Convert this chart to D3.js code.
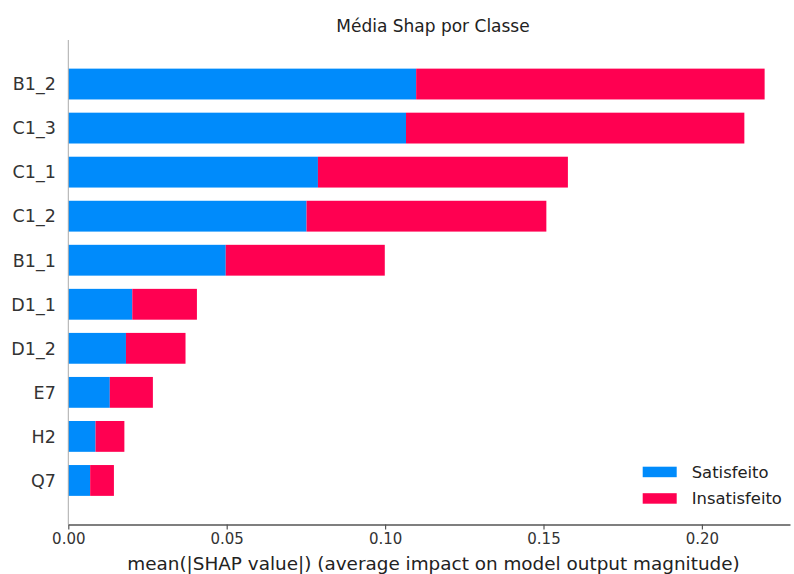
<!DOCTYPE html>
<html>
<head>
<meta charset="utf-8">
<script src="https://cdn.jsdelivr.net/npm/d3@7"></script>
<style>
  body { margin: 0; background: #fff; }
  text { font-family: "DejaVu Sans", sans-serif; }
</style>
</head>
<body>
<script>
const width = 794;
const height = 574;

// feature names, top to bottom
const features = ["B1_2", "C1_3", "C1_1", "C1_2", "B1_1", "D1_1", "D1_2", "E7", "H2", "Q7"];
// mean |SHAP| per class
const satisfeito = [0.1098, 0.1066, 0.0788, 0.0752, 0.0497, 0.0202, 0.0182, 0.0131, 0.0086, 0.0069];
const insatisfeito = [0.1100, 0.1068, 0.0789, 0.0757, 0.0502, 0.0204, 0.0188, 0.0136, 0.0091, 0.0075];
const classes = ["Satisfeito", "Insatisfeito"];
const colors = ["#008bfb", "#ff0051"];
const xTicks = [0, 0.05, 0.10, 0.15, 0.20];

const plotLeft = 68.3, plotRight = 790, plotTop = 40, plotBottom = 524.5;

let svg = d3.select("body").append("svg").attr("width", width).attr("height", height);

// x scale
let x = d3.scaleLinear().domain([0, (plotRight - plotLeft) / 3168]).range([plotLeft, plotRight]);
// y band scale
let y = d3.scaleBand().domain(features).range([plotTop, plotBottom]).paddingInner(0.3).paddingOuter(0.65);

// build table for stacking
const rows = features.map((f, i) => ({feature: f, Satisfeito: satisfeito[i], Insatisfeito: insatisfeito[i]}));
const stacked = d3.stack().keys(classes)(rows);

svg.append("g")
    .selectAll("g")
    .data(stacked)
    .enter()
    .append("g")
    .attr("fill", (d, i) => colors[i])
    .selectAll("rect")
    .data(d => d)
    .enter()
    .append("rect")
    .attr("x", d => x(d[0]))
    .attr("width", d => x(d[1]) - x(d[0]))
    .attr("y", d => y(d.data.feature))
    .attr("height", y.bandwidth());

// left spine
svg.append("line")
    .attr("x1", plotLeft).attr("x2", plotLeft)
    .attr("y1", plotTop).attr("y2", plotBottom)
    .attr("stroke", "#aaa").attr("stroke-width", 1);

// y labels
svg.append("g")
    .selectAll("text")
    .data(features)
    .enter()
    .append("text")
    .attr("x", plotLeft - 12.5)
    .attr("y", d => y(d) + y.bandwidth() / 2)
    .attr("dy", "0.36em")
    .attr("text-anchor", "end")
    .attr("font-size", 17.5)
    .attr("fill", "#333")
    .text(d => d);

// x axis
let xAxis = svg.append("g")
    .attr("transform", `translate(0,${plotBottom})`)
    .call(d3.axisBottom(x).tickValues(xTicks).tickFormat(d3.format(".2f")).tickSize(5).tickSizeOuter(0));
xAxis.select(".domain").attr("stroke", "#555").attr("stroke-width", 1.6);
xAxis.selectAll(".tick line").attr("stroke", "#555").attr("stroke-width", 1.2);
xAxis.selectAll(".tick text")
    .attr("font-family", "DejaVu Sans")
    .attr("font-size", 15)
    .attr("fill", "#333")
    .attr("y", 9);

// x label
svg.append("text")
    .attr("x", 433.5)
    .attr("y", 570)
    .attr("text-anchor", "middle")
    .attr("font-size", 18.4)
    .attr("fill", "#222")
    .text("mean(|SHAP value|) (average impact on model output magnitude)");

// title
svg.append("text")
    .attr("x", 433)
    .attr("y", 31.5)
    .attr("text-anchor", "middle")
    .attr("font-size", 17)
    .attr("fill", "#222")
    .text("Média Shap por Classe");

// legend
let legend = svg.append("g")
    .selectAll("g")
    .data(classes)
    .enter()
    .append("g")
    .attr("transform", (d, i) => `translate(642.7,${466.7 + i * 26.5})`);
legend.append("rect")
    .attr("width", 34).attr("height", 10.5)
    .attr("fill", (d, i) => colors[i]);
legend.append("text")
    .attr("x", 49)
    .attr("y", 11)
    .attr("font-size", 16.4)
    .attr("fill", "#222")
    .text(d => d);
</script>
</body>
</html>
